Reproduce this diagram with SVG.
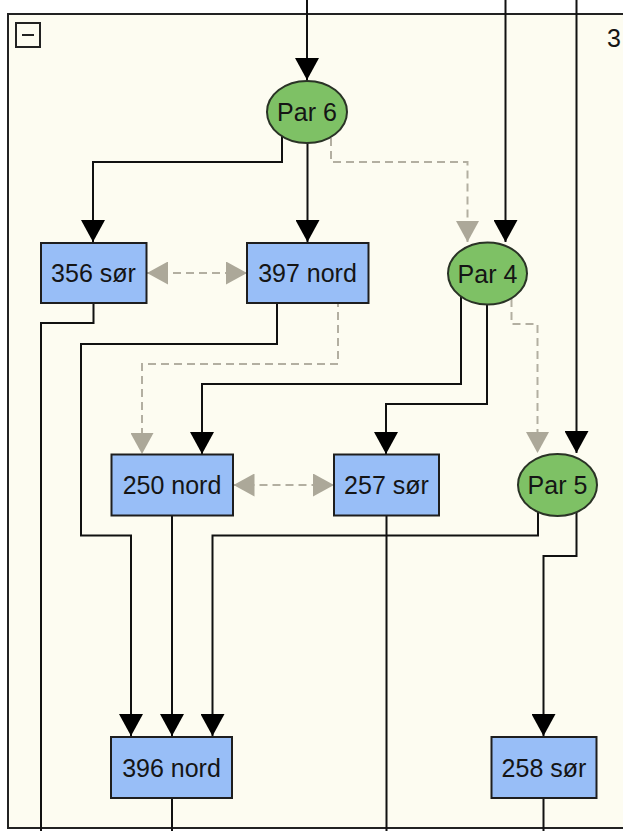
<svg xmlns="http://www.w3.org/2000/svg" width="623" height="831" viewBox="0 0 623 831">
<style>
.frame{fill:#fdfcf1;stroke:#222;stroke-width:2}
.box{fill:#98bef7;stroke:#1e1e1e;stroke-width:2}
.ell{fill:#7ec165;stroke:#2a3326;stroke-width:2}
.lbl{font-family:"Liberation Sans",Arial,sans-serif;font-size:25px;fill:#151515;text-anchor:middle}
.c{fill:none;stroke:#111;stroke-width:2}
.d{fill:none;stroke:#b3afa1;stroke-width:2;stroke-dasharray:8 5}
</style>
<defs>
<marker id="ab" markerUnits="userSpaceOnUse" markerWidth="22" markerHeight="24" viewBox="0 0 22 24" refX="22" refY="12" orient="auto"><path d="M0,0 L22,12 L0,24 z" fill="#000"/></marker>
<marker id="ag" markerUnits="userSpaceOnUse" markerWidth="21" markerHeight="23" viewBox="0 0 21 23" refX="21" refY="11.5" orient="auto-start-reverse"><path d="M0,0 L21,11.5 L0,23 z" fill="#aca899"/></marker>
</defs>
<rect width="623" height="831" fill="#ffffff"/>
<rect class="frame" x="8" y="14" width="640" height="814"/>
<g id="collapse">
<rect x="16" y="23" width="24" height="24" fill="none" stroke="#222" stroke-width="2"/>
<line x1="22" y1="35" x2="34" y2="35" stroke="#222" stroke-width="2"/>
</g>
<text class="lbl" x="607" y="47" style="text-anchor:start">3</text>
<g id="connectors">
<path class="c" d="M307,0 V80" marker-end="url(#ab)"/>
<path class="c" d="M282,112 V162 H93 V242" marker-end="url(#ab)"/>
<path class="c" d="M307.5,112 V242" marker-end="url(#ab)"/>
<path class="d" d="M331,112 V162 H467.5 V242" marker-end="url(#ag)"/>
<path class="c" d="M505.5,0 V242" marker-end="url(#ab)"/>
<path class="d" d="M147,273 H247" marker-start="url(#ag)" marker-end="url(#ag)"/>
<path class="c" d="M93.5,273 V323 H41 V831"/>
<path class="c" d="M277,273 V344 H81 V535.5 H131 V736" marker-end="url(#ab)"/>
<path class="d" d="M338,273 V364 H142 V454" marker-end="url(#ag)"/>
<path class="c" d="M461,273 V384 H202 V454" marker-end="url(#ab)"/>
<path class="c" d="M487,273 V404 H386 V454" marker-end="url(#ab)"/>
<path class="d" d="M511.5,273 V324 H537.5 V453" marker-end="url(#ag)"/>
<path class="c" d="M576.5,0 V453" marker-end="url(#ab)"/>
<path class="d" d="M233.5,485 H334" marker-start="url(#ag)" marker-end="url(#ag)"/>
<path class="c" d="M172,485 V736" marker-end="url(#ab)"/>
<path class="c" d="M386.5,485 V831"/>
<path class="c" d="M538,485 V535.5 H212.5 V736" marker-end="url(#ab)"/>
<path class="c" d="M576.5,485 V556 H543.5 V736" marker-end="url(#ab)"/>
<path class="c" d="M172,767 V831"/>
<path class="c" d="M543.5,767 V831"/>
</g>
<g id="par6"><ellipse class="ell" cx="307" cy="112" rx="40" ry="31"/><text class="lbl" x="307" y="121">Par 6</text></g>
<g id="n356sor"><rect class="box" x="41" y="243" width="105.5" height="60"/><text class="lbl" x="93.5" y="282">356 sør</text></g>
<g id="n397nord"><rect class="box" x="247" y="243" width="121.5" height="60"/><text class="lbl" x="307.5" y="282">397 nord</text></g>
<g id="par4"><ellipse class="ell" cx="487.5" cy="273.5" rx="39.5" ry="31"/><text class="lbl" x="487.5" y="282.5">Par 4</text></g>
<g id="n250nord"><rect class="box" x="111.5" y="454.5" width="121.5" height="61"/><text class="lbl" x="172" y="494">250 nord</text></g>
<g id="n257sor"><rect class="box" x="334" y="454.5" width="105" height="61"/><text class="lbl" x="386.5" y="494">257 sør</text></g>
<g id="par5"><ellipse class="ell" cx="557.5" cy="485" rx="39.5" ry="31"/><text class="lbl" x="557.5" y="494">Par 5</text></g>
<g id="n396nord"><rect class="box" x="111" y="737" width="121" height="61"/><text class="lbl" x="171.5" y="776.5">396 nord</text></g>
<g id="n258sor"><rect class="box" x="491.5" y="737" width="105" height="61"/><text class="lbl" x="544" y="776.5">258 sør</text></g>
</svg>
